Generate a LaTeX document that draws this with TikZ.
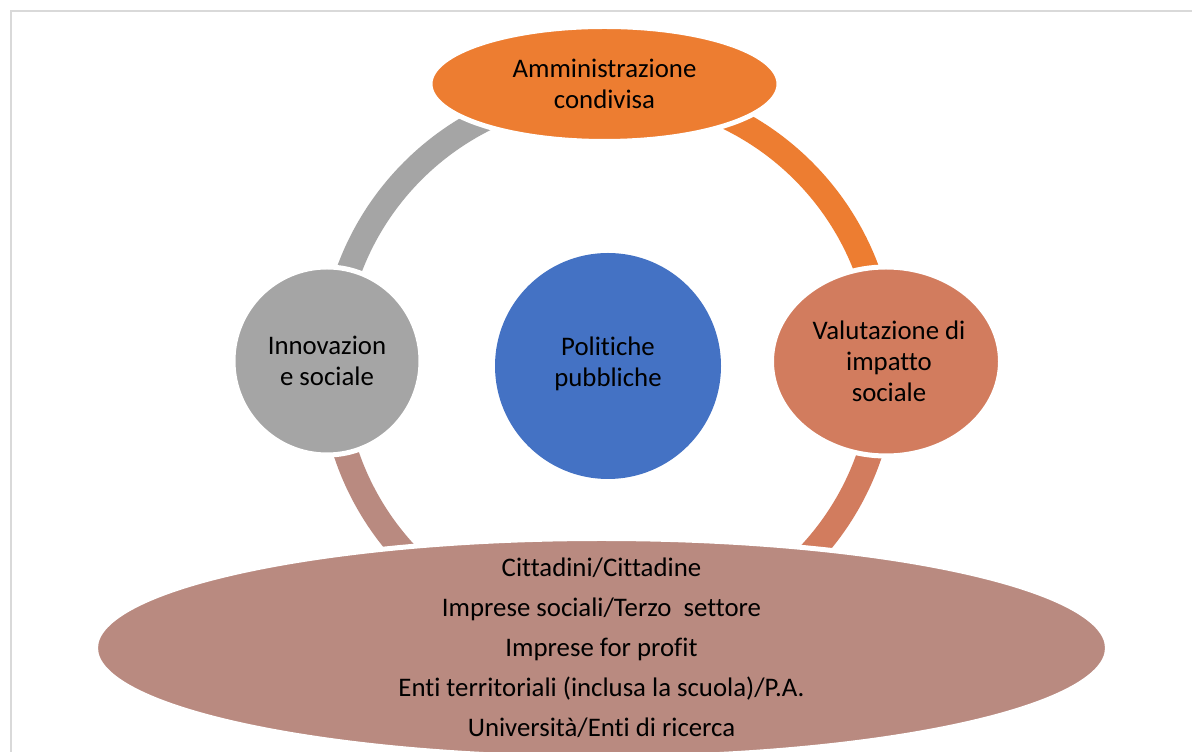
\documentclass[tikz,border=0pt]{standalone}
\usepackage{fontspec}
\setmainfont{Carlito}[Ligatures=NoCommon]
\usetikzlibrary{shapes.geometric}
\definecolor{cOrange}{HTML}{ED7D31}
\definecolor{cGray}{HTML}{A5A5A5}
\definecolor{cBlue}{HTML}{4472C4}
\definecolor{cSalmon}{HTML}{D27C5E}
\definecolor{cRose}{HTML}{B98A80}
\definecolor{cFrame}{HTML}{D9D9D9}
\tikzset{
  ringarc/.style={line width=25pt, line cap=butt},
  nodebase/.style={draw=white, line width=5pt, inner sep=0pt, outer sep=0pt},
  roundnode/.style={nodebase, circle},
  ellnode/.style={nodebase, ellipse},
  lbl/.style={align=center, text=black, inner sep=0pt, font=\fontsize{26.8}{31}\selectfont},
  biglbl/.style={align=center, text=black, inner sep=0pt, font=\fontsize{26.8}{40}\selectfont}
}
\begin{document}
\begin{tikzpicture}[x=1pt,y=1pt]
\useasboundingbox (0,0) rectangle (1192,752);
\fill[white] (0,0) rectangle (1192,752);
% frame
\draw[cFrame, line width=2.5pt] (11,0) -- (11,741) -- (1192,741);
% ring centre
\coordinate (rc) at (608,386);
% ring arcs
\draw[ringarc, cGray]   ([shift={(180:276pt)}]rc) arc[start angle=180, end angle=90, radius=276pt];
\draw[ringarc, cOrange] ([shift={(90:276pt)}]rc) arc[start angle=90, end angle=0, radius=276pt];
\draw[ringarc, cSalmon] ([shift={(0:276pt)}]rc) arc[start angle=0, end angle=-90, radius=276pt];
\draw[ringarc, cRose]   ([shift={(-90:276pt)}]rc) arc[start angle=-90, end angle=-180, radius=276pt];
% nodes
\node[ellnode, fill=cOrange, minimum width=349pt, minimum height=115pt] (amm) at (604.5,668) {};
\node[lbl] (ammtext) at (amm.center) {Amministrazione\\condivisa};
\node[roundnode, fill=cGray, minimum size=188pt] (inn) at (327,391) {};
\node[lbl] (inntext) at (inn.center) {Innovazion\\e sociale};
\node[circle, fill=cBlue, inner sep=0pt, minimum size=226pt] (pol) at (608,386) {};
\node[lbl] (poltext) at ([yshift=2pt]pol.center) {Politiche\\pubbliche};
\node[ellnode, fill=cSalmon, minimum width=229pt, minimum height=189pt] (val) at (886,390.5) {};
\node[lbl] (valtext) at ([xshift=3pt]val.center) {Valutazione di\\impatto\\sociale};
\node[ellnode, fill=cRose, minimum width=1012pt, minimum height=219pt] (stk) at (601.5,104) {};
\node[biglbl] (stktext) at (stk.center) {Cittadini/Cittadine\\Imprese sociali/Terzo\ \ settore\\Imprese for profit\\Enti territoriali (inclusa la scuola)/P.A.\\Università/Enti di ricerca};
\end{tikzpicture}
\end{document}
